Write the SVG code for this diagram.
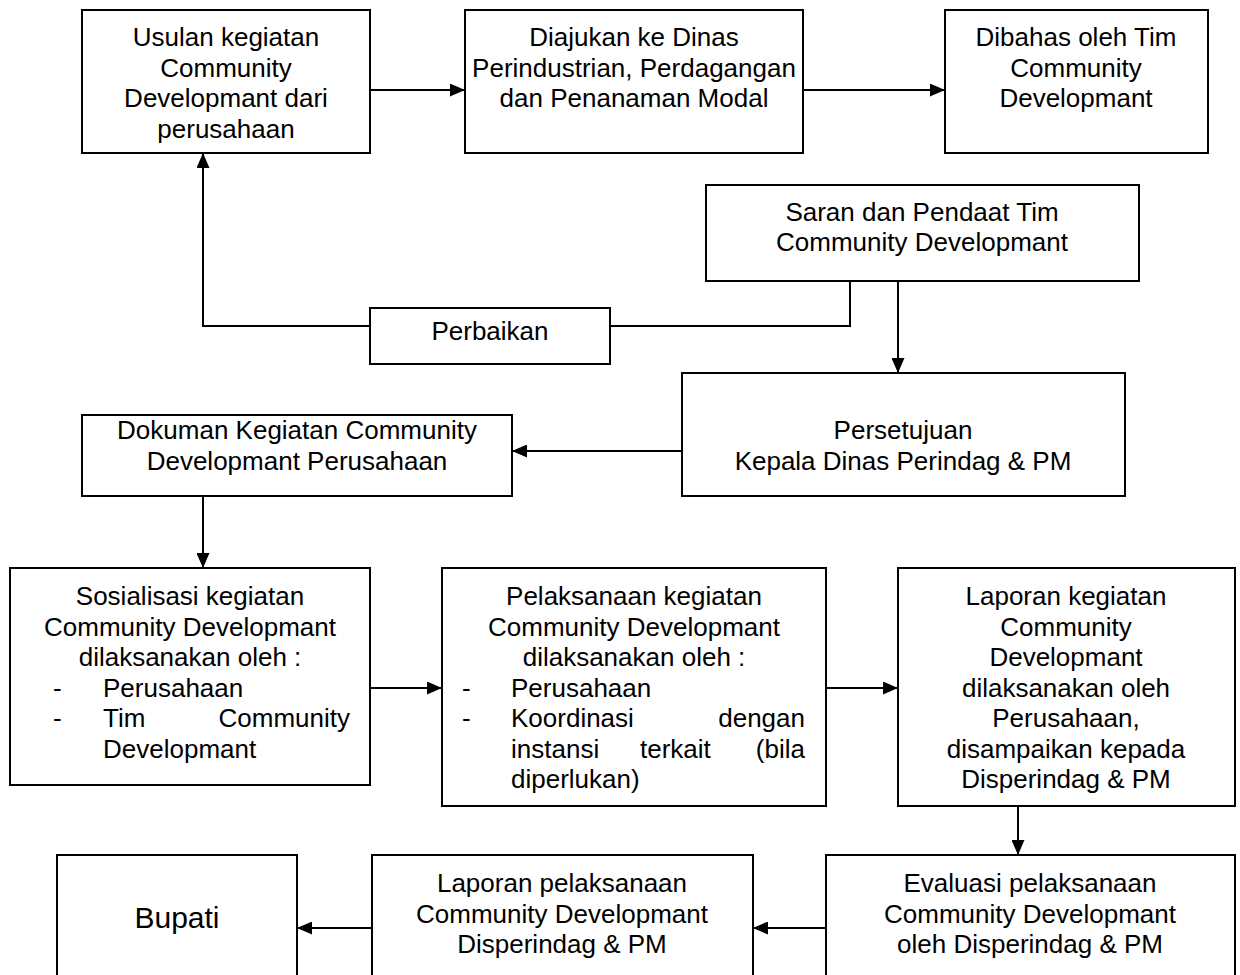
<svg xmlns="http://www.w3.org/2000/svg" width="1240" height="975" viewBox="0 0 1240 975">
<style>
.box{fill:#fff;stroke:#000;stroke-width:2}
.t{font-family:"Liberation Sans",Arial,sans-serif;font-size:26px;fill:#000;text-anchor:middle}
.l{font-family:"Liberation Sans",Arial,sans-serif;font-size:26px;fill:#000;text-anchor:start}
.r{font-family:"Liberation Sans",Arial,sans-serif;font-size:26px;fill:#000;text-anchor:end}
.big{font-size:30px}
.c{fill:none;stroke:#000;stroke-width:2}
</style>
<defs>
<marker id="ah" markerUnits="userSpaceOnUse" markerWidth="15" markerHeight="13" refX="15" refY="6.5" orient="auto">
<path d="M0,0 L15,6.5 L0,13 z" fill="#000"/>
</marker>
</defs>
<rect width="1240" height="975" fill="#fff"/>
<g id="connectors">
<line class="c" x1="370" y1="90" x2="465" y2="90" marker-end="url(#ah)"/>
<line class="c" x1="803" y1="90" x2="945" y2="90" marker-end="url(#ah)"/>
<polyline class="c" points="850,281 850,326 610,326"/>
<polyline class="c" points="370,326 203,326 203,153" marker-end="url(#ah)"/>
<line class="c" x1="898" y1="281" x2="898" y2="373" marker-end="url(#ah)"/>
<line class="c" x1="682" y1="451" x2="512" y2="451" marker-end="url(#ah)"/>
<line class="c" x1="203" y1="496" x2="203" y2="568" marker-end="url(#ah)"/>
<line class="c" x1="370" y1="688" x2="442" y2="688" marker-end="url(#ah)"/>
<line class="c" x1="826" y1="688" x2="898" y2="688" marker-end="url(#ah)"/>
<line class="c" x1="1018" y1="806" x2="1018" y2="855" marker-end="url(#ah)"/>
<line class="c" x1="826" y1="928" x2="753" y2="928" marker-end="url(#ah)"/>
<line class="c" x1="372" y1="928" x2="297" y2="928" marker-end="url(#ah)"/>
</g>
<g id="usulan">
<rect class="box" x="82" y="10" width="288" height="143"/>
<text class="t" x="226" y="46">Usulan kegiatan</text>
<text class="t" x="226" y="76.5">Community</text>
<text class="t" x="226" y="107">Developmant dari</text>
<text class="t" x="226" y="137.5">perusahaan</text>
</g>
<g id="diajukan">
<rect class="box" x="465" y="10" width="338" height="143"/>
<text class="t" x="634" y="46">Diajukan ke Dinas</text>
<text class="t" x="634" y="76.5">Perindustrian, Perdagangan</text>
<text class="t" x="634" y="107">dan Penanaman Modal</text>
</g>
<g id="dibahas">
<rect class="box" x="945" y="10" width="263" height="143"/>
<text class="t" x="1076" y="46">Dibahas oleh Tim</text>
<text class="t" x="1076" y="76.5">Community</text>
<text class="t" x="1076" y="107">Developmant</text>
</g>
<g id="saran">
<rect class="box" x="706" y="185" width="433" height="96"/>
<text class="t" x="922" y="221">Saran dan Pendaat Tim</text>
<text class="t" x="922" y="251">Community Developmant</text>
</g>
<g id="perbaikan">
<rect class="box" x="370" y="308" width="240" height="56"/>
<text class="t" x="490" y="340">Perbaikan</text>
</g>
<g id="persetujuan">
<rect class="box" x="682" y="373" width="443" height="123"/>
<text class="t" x="903" y="439">Persetujuan</text>
<text class="t" x="903" y="470">Kepala Dinas Perindag &amp; PM</text>
</g>
<g id="dokuman">
<rect class="box" x="82" y="415" width="430" height="81"/>
<text class="t" x="297" y="439">Dokuman Kegiatan Community</text>
<text class="t" x="297" y="470">Developmant Perusahaan</text>
</g>
<g id="sosialisasi">
<rect class="box" x="10" y="568" width="360" height="217"/>
<text class="t" x="190" y="605">Sosialisasi kegiatan</text>
<text class="t" x="190" y="635.5">Community Developmant</text>
<text class="t" x="190" y="666">dilaksanakan oleh :</text>
<text class="l" x="53" y="696.5">-</text>
<text class="l" x="103" y="696.5">Perusahaan</text>
<text class="l" x="53" y="727">-</text>
<text class="l" x="103" y="727">Tim</text>
<text class="r" x="350" y="727">Community</text>
<text class="l" x="103" y="757.5">Developmant</text>
</g>
<g id="pelaksanaan">
<rect class="box" x="442" y="568" width="384" height="238"/>
<text class="t" x="634" y="605">Pelaksanaan kegiatan</text>
<text class="t" x="634" y="635.5">Community Developmant</text>
<text class="t" x="634" y="666">dilaksanakan oleh :</text>
<text class="l" x="462" y="696.5">-</text>
<text class="l" x="511" y="696.5">Perusahaan</text>
<text class="l" x="462" y="727">-</text>
<text class="l" x="511" y="727">Koordinasi</text>
<text class="r" x="805" y="727">dengan</text>
<text class="l" x="511" y="757.5">instansi</text>
<text class="l" x="640" y="757.5">terkait</text>
<text class="r" x="805" y="757.5">(bila</text>
<text class="l" x="511" y="788">diperlukan)</text>
</g>
<g id="laporan">
<rect class="box" x="898" y="568" width="337" height="238"/>
<text class="t" x="1066" y="605">Laporan kegiatan</text>
<text class="t" x="1066" y="635.5">Community</text>
<text class="t" x="1066" y="666">Developmant</text>
<text class="t" x="1066" y="696.5">dilaksanakan oleh</text>
<text class="t" x="1066" y="727">Perusahaan,</text>
<text class="t" x="1066" y="757.5">disampaikan kepada</text>
<text class="t" x="1066" y="788">Disperindag &amp; PM</text>
</g>
<g id="evaluasi">
<rect class="box" x="826" y="855" width="409" height="140"/>
<text class="t" x="1030" y="892">Evaluasi pelaksanaan</text>
<text class="t" x="1030" y="922.5">Community Developmant</text>
<text class="t" x="1030" y="953">oleh Disperindag &amp; PM</text>
</g>
<g id="laporan-pelaksanaan">
<rect class="box" x="372" y="855" width="381" height="140"/>
<text class="t" x="562" y="892">Laporan pelaksanaan</text>
<text class="t" x="562" y="922.5">Community Developmant</text>
<text class="t" x="562" y="953">Disperindag &amp; PM</text>
</g>
<g id="bupati">
<rect class="box" x="57" y="855" width="240" height="140"/>
<text class="t big" x="177" y="928">Bupati</text>
</g>
</svg>
